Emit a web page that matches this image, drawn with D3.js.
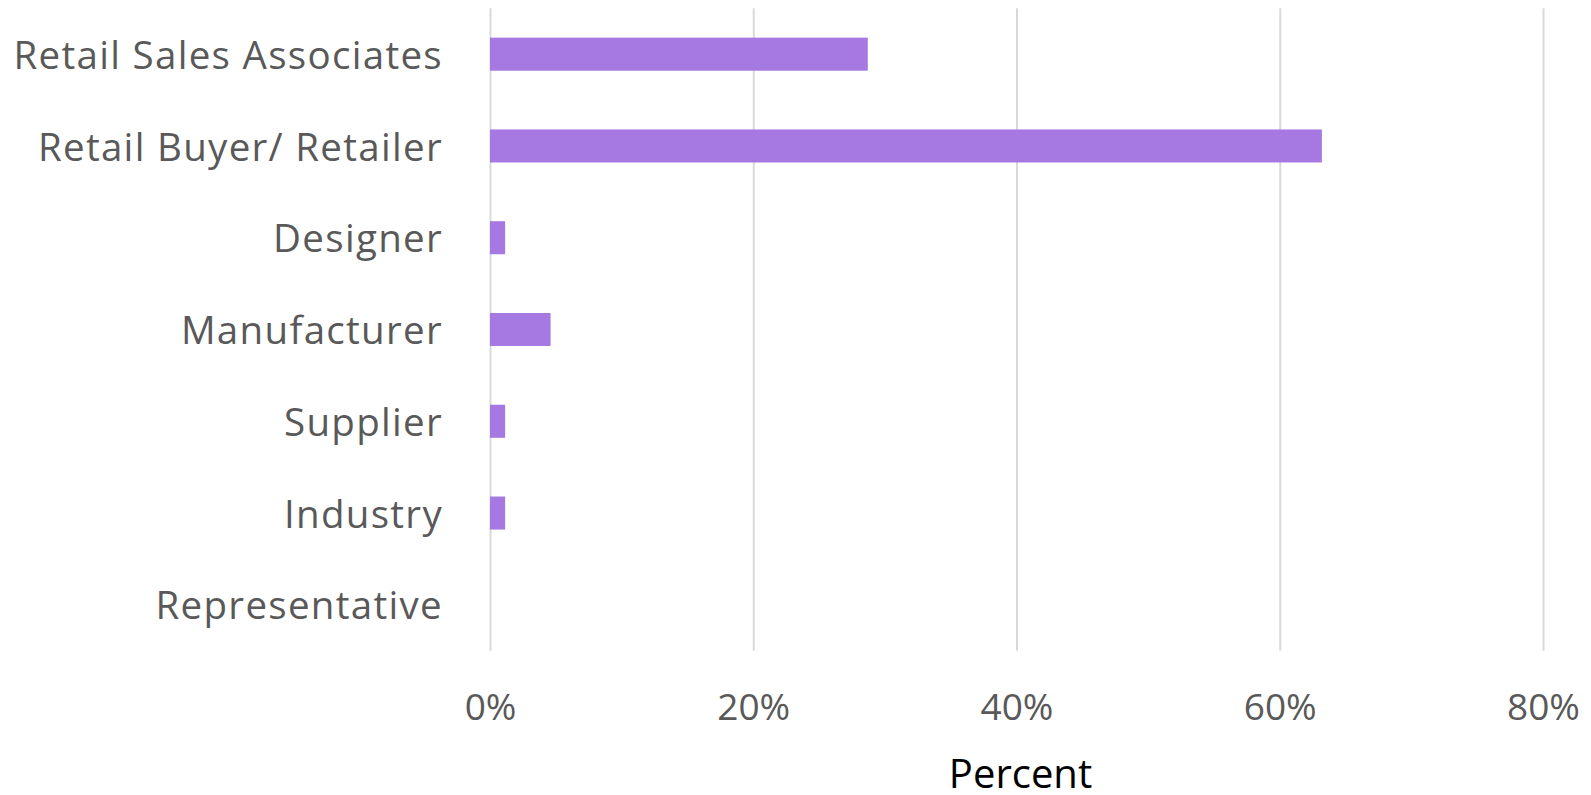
<!DOCTYPE html>
<html>
<head>
<meta charset="utf-8">
<script src="https://cdn.jsdelivr.net/npm/d3@7"></script>
<style>
  html, body { margin: 0; padding: 0; background: #fff; }
  svg { display: block; }
</style>
</head>
<body>
<div id="chart"></div>
<script>
// data (share of respondents, %)
const categories = ["Retail Sales Associates", "Retail Buyer/ Retailer", "Designer", "Manufacturer", "Supplier", "Industry", "Representative"];
const percents = [28.7, 63.2, 1.15, 4.6, 1.15, 1.15, 0];
const xTicks = [0, 20, 40, 60, 80];
const xTitle = "Percent";

const width = 1591;
const height = 795;
const plotLeft = 490;
const plotRight = 1543;
const plotTop = 8.3;
const plotBottom = 650.7;
const fontFamily = "'Open Sans', Lato, sans-serif";
const labelColor = "#595959";
const barColor = "#a678e1";
const gridColor = "#d9d9d9";

const rows = categories.map((c, i) => ({ name: c, value: percents[i] }));

const svg = d3.select("#chart").append("svg")
    .attr("width", width)
    .attr("height", height);

const x = d3.scaleLinear()
    .domain([0, 80])
    .range([plotLeft, plotRight]);

const y = d3.scaleBand()
    .domain(categories)
    .range([plotTop, plotBottom])
    .paddingInner(0.64)
    .paddingOuter(0.32);

// vertical gridlines + tick labels
const xAxis = svg.append("g")
    .attr("transform", `translate(0,${plotBottom})`)
    .call(d3.axisBottom(x)
        .tickValues(xTicks)
        .tickFormat(d => d + "%")
        .tickSize(-(plotBottom - plotTop)));

xAxis.select(".domain").remove();
xAxis.selectAll(".tick line")
    .attr("stroke", gridColor)
    .attr("stroke-width", 2);
xAxis.selectAll(".tick text")
    .attr("fill", labelColor)
    .attr("font-family", fontFamily)
    .attr("font-size", 37)
    .attr("y", 720 - plotBottom)
    .attr("dy", 0);

// bars
svg.append("g")
    .selectAll("rect")
    .data(rows)
    .join("rect")
    .attr("x", x(0))
    .attr("y", d => y(d.name))
    .attr("width", d => x(d.value) - x(0))
    .attr("height", y.bandwidth())
    .attr("fill", barColor);

// category labels (a bit of letter spacing to get close to the wider original face)
const yAxis = svg.append("g")
    .attr("transform", `translate(${plotLeft},0)`)
    .call(d3.axisLeft(y).tickSize(0).tickPadding(47));

yAxis.select(".domain").remove();
yAxis.selectAll(".tick text")
    .attr("fill", labelColor)
    .attr("font-family", fontFamily)
    .attr("font-size", 38.5)
    .attr("letter-spacing", 1.3)
    .attr("dy", "0.38em");

// axis title
svg.append("text")
    .text(xTitle)
    .attr("x", (plotLeft + plotRight) / 2 + 4)
    .attr("y", 788)
    .attr("text-anchor", "middle")
    .attr("font-family", fontFamily)
    .attr("font-size", 40)
    .attr("fill", "#000");
</script>
</body>
</html>
